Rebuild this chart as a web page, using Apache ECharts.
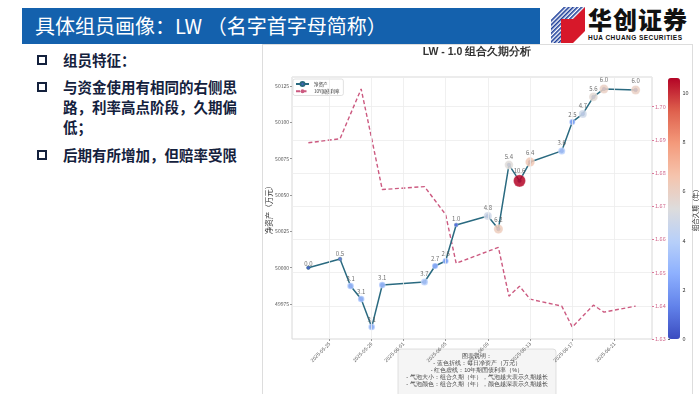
<!DOCTYPE html>
<html><head><meta charset="utf-8">
<script src="https://cdn.jsdelivr.net/npm/echarts@6/dist/echarts.min.js"></script>
<style>
html,body{margin:0;padding:0;width:700px;height:394px;overflow:hidden;background:#fff;font-family:"Noto Sans CJK SC","Noto Sans",sans-serif;}
#bar{position:absolute;left:22px;top:8px;width:518px;height:36px;background:#1461ad;}
#title{position:absolute;left:35px;top:8px;height:36px;line-height:36px;color:#fff;font-size:20px;white-space:nowrap;}
.b{position:absolute;left:37px;width:6px;height:6px;border:2px solid #14213d;}
.t{position:absolute;left:63px;font-size:14.5px;font-weight:bold;color:#14213d;line-height:20px;white-space:nowrap;}
#frame{position:absolute;left:262px;top:44px;width:431px;height:352px;border:1px solid #ddd;box-sizing:border-box;}
#chart{position:absolute;left:0;top:0;width:700px;height:394px;}
#logoT{position:absolute;left:588px;top:6px;font-size:24px;line-height:26px;height:26px;font-weight:900;color:#111;letter-spacing:1px;white-space:nowrap;}
#logoS{position:absolute;left:588px;top:34px;font-size:6.5px;line-height:8px;font-weight:bold;color:#111;letter-spacing:0.45px;white-space:nowrap;font-family:"Liberation Sans",sans-serif;}
#logoI{position:absolute;left:551px;top:7px;}
</style></head>
<body>
<div id="bar"></div>
<div id="title">具体组员画像：LW （名字首字母简称）</div>
<svg id="logoI" width="34" height="36" viewBox="0 0 34 36">
  <defs><pattern id="st" width="3" height="3" patternUnits="userSpaceOnUse" patternTransform="rotate(45)"><rect width="1.6" height="3" fill="#1d3f9a"/></pattern></defs>
  <polygon points="12,0 34,0 22,12 0,12" fill="url(#st)"/>
  <polygon points="0,12 22,12 22,36 0,36" fill="url(#st)"/>
  <polygon points="10,12 22,12 34,0 34,24 22,36 10,36" fill="#d7182a"/>
</svg>
<div id="logoT">华创证券</div>
<div id="logoS">HUA CHUANG SECURITIES</div>
<div class="b" style="top:55px"></div>
<div class="t" style="top:50px">组员特征：</div>
<div class="b" style="top:82px"></div>
<div class="t" style="top:77px">与资金使用有相同的右侧思<br>路，利率高点阶段，久期偏<br>低；</div>
<div class="b" style="top:150px"></div>
<div class="t" style="top:145px">后期有所增加，但赔率受限</div>
<div id="frame"></div>
<div id="chart"></div>
<script>
const dates = ['2025-05-23','2025-05-26','2025-05-27','2025-05-28','2025-05-29','2025-05-30','2025-06-03','2025-06-04','2025-06-05','2025-06-06','2025-06-09','2025-06-10','2025-06-11','2025-06-12','2025-06-13','2025-06-16','2025-06-17','2025-06-18','2025-06-19','2025-06-20','2025-06-23'];
const netAsset = [50000.0,50006.0,49987.4,49978.5,49959.2,49988.1,49990.2,50001.2,50004.6,50029.4,50035.6,50026.6,50070.7,50059.7,50072.7,50080.3,50100.2,50105.7,50117.4,50122.9,50122.2];
const yield10y = [1.6891,1.6903,1.6978,1.7053,1.6903,1.6750,1.6759,1.6717,1.6675,1.6528,1.6564,1.6576,1.6429,1.6459,1.6420,1.6399,1.6336,1.6369,1.6402,1.6381,1.6399];
const duration = [0.0,0.5,3.1,3.1,3.1,3.1,3.7,2.7,2.6,1.0,4.8,6.2,5.4,10.6,6.4,3.6,2.5,4.7,5.6,6.0,6.0];
const xTickLabels = ['2025-05-25','2025-05-29','2025-06-01','2025-06-05','2025-06-09','2025-06-13','2025-06-17','2025-06-21'];
const leftTicks = [49975,50000,50025,50050,50075,50100,50125];
const cbarTicks = [0,2,4,6,8,10];
const noteLines = ['图表说明：','- 蓝色折线：每日净资产（万元）','- 红色虚线：10年期国债利率（%）','- 气泡大小：组合久期（年），气泡越大表示久期越长','- 气泡颜色：组合久期（年），颜色越深表示久期越长'];

function ts(s){const p=s.split('-').map(Number);return new Date(p[0],p[1]-1,p[2]).getTime();}
function fmtDate(v){const d=new Date(v);const m=d.getMonth()+1, dd=d.getDate();return d.getFullYear()+'-'+(m<10?'0':'')+m+'-'+(dd<10?'0':'')+dd;}
const t0 = ts(dates[0]), t1 = ts(dates[dates.length-1]);
const xPad = (t1-t0)*0.05;
const xTickVals = xTickLabels.map(ts);
const coolwarm = ['#3b4cc0','#6282ea','#8db0fe','#b8d0f9','#dddcdc','#f5c4ad','#f49a7b','#de604d','#b40426'];

const chart = echarts.init(document.getElementById('chart'), null, {renderer:'canvas'});
chart.setOption({
  animation:false,
  backgroundColor:'transparent',
  textStyle:{fontFamily:'"Noto Sans CJK SC","DejaVu Sans",sans-serif'},
  grid:[
    {left:292, top:77, width:360, height:262, show:true, borderColor:'#d8d8d8', borderWidth:1, backgroundColor:'#fff'},
    {left:668, top:78, width:12, height:261, show:false}
  ],
  legend:{
    data:['净资产','10Y国债利率'], orient:'vertical', left:293, top:79,
    itemWidth:13, itemHeight:5, itemGap:2, padding:[2,4,2,2],
    textStyle:{fontSize:4.5, color:'#333'},
    borderColor:'#ccc', borderWidth:0.6, borderRadius:2, backgroundColor:'#fff'
  },
  xAxis:[
    {type:'value', gridIndex:0, min:t0-xPad, max:t1+xPad, scale:true,
     axisLine:{show:false}, splitLine:{show:false},
     axisTick:{show:true, length:2, lineStyle:{color:'#999'}, customValues:xTickVals},
     axisLabel:{rotate:45, fontSize:5, color:'#555', margin:4, customValues:xTickVals,
       formatter:function(v){return fmtDate(v);}}},
    {type:'value', gridIndex:1, min:0, max:1, show:false}
  ],
  yAxis:[
    {type:'value', gridIndex:0, min:49951.0, max:50131.1, position:'left',
     name:'净资产（万元）', nameLocation:'middle', nameGap:19, nameMoveOverlap:false,
     nameTextStyle:{fontSize:7.5, color:'#333'},
     axisLine:{show:false}, splitLine:{show:false},
     axisTick:{show:true, length:2, lineStyle:{color:'#999'}, customValues:leftTicks},
     axisLabel:{fontSize:5, color:'#555', margin:3, customValues:leftTicks,
       formatter:function(v){return String(Math.round(v));}}},
    {type:'value', gridIndex:0, min:1.63, max:1.7089, interval:0.01, position:'right',
     axisLine:{show:false},
     splitLine:{show:true, lineStyle:{color:'#ececec', width:0.8}},
     axisTick:{show:true, length:2, lineStyle:{color:'#d9789a'}},
     axisLabel:{fontSize:5.5, color:'#d0688c', margin:3, showMaxLabel:false,
       formatter:function(v){return v.toFixed(2);}}},
    {type:'value', gridIndex:1, min:0, max:10.6, position:'right',
     name:'组合久期（年）', nameLocation:'middle', nameGap:13, nameRotate:90,
     nameTextStyle:{fontSize:6.5, color:'#333'},
     axisLine:{show:false}, splitLine:{show:false},
     axisTick:{show:true, length:2, lineStyle:{color:'#666'}, customValues:cbarTicks},
     axisLabel:{fontSize:5.5, color:'#333', margin:3, customValues:cbarTicks}}
  ],
  visualMap:{
    type:'continuous', min:0, max:10.6, dimension:2, seriesIndex:2,
    inRange:{color:coolwarm}, left:668, top:78, itemWidth:12, itemHeight:261,
    padding:0, calculable:false, showLabel:false, realtime:false
  },
  series:[
    {name:'净资产', type:'line', xAxisIndex:0, yAxisIndex:0, z:3,
     data:dates.map((d,i)=>[ts(d), netAsset[i]]),
     symbol:'circle', symbolSize:3.5,
     lineStyle:{color:'#2a6a80', width:1.5},
     itemStyle:{color:'#4a64c8', borderColor:'#2a6a80', borderWidth:0.6},
     markLine:{silent:true, symbol:'none', label:{show:false},
       lineStyle:{color:'#ececec', width:0.8, type:'solid'},
       data:xTickVals.map(v=>({xAxis:v}))}},
    {name:'10Y国债利率', type:'line', xAxisIndex:0, yAxisIndex:1, z:2,
     data:dates.map((d,i)=>[ts(d), yield10y[i]]),
     symbol:'none',
     lineStyle:{color:'#cc5a80', width:1.4, type:[4,2.5]},
     itemStyle:{color:'#cc5a80'}},
    {name:'久期', type:'scatter', xAxisIndex:0, yAxisIndex:0, z:4,
     data:dates.map((d,i)=>[ts(d), netAsset[i], duration[i]]),
     symbolSize:function(v){return 3.7*Math.sqrt(v[2]);},
     itemStyle:{opacity:0.85, borderColor:'rgba(255,255,255,0.6)', borderWidth:0.5},
     label:{show:true, position:'top', distance:1, fontSize:6, color:'#555',
       formatter:function(p){return p.value[2].toFixed(1);}}}
  ],
  graphic:[
    {type:'text', x:477, y:52, style:{text:'LW - 1.0 组合久期分析', fontSize:10.5, fontWeight:'bold', fill:'#333', textAlign:'center', textVerticalAlign:'middle'}},
    {type:'rect', x:398, y:349, shape:{width:158, height:52, r:3}, style:{fill:'#f5f5f5', stroke:'#ccc', lineWidth:0.6}},
    {type:'text', x:477, y:353, style:{text:noteLines.join('\n'), fontSize:5.5, lineHeight:7, fill:'#444', textAlign:'center', textVerticalAlign:'top'}}
  ]
});
</script>
</body></html>
